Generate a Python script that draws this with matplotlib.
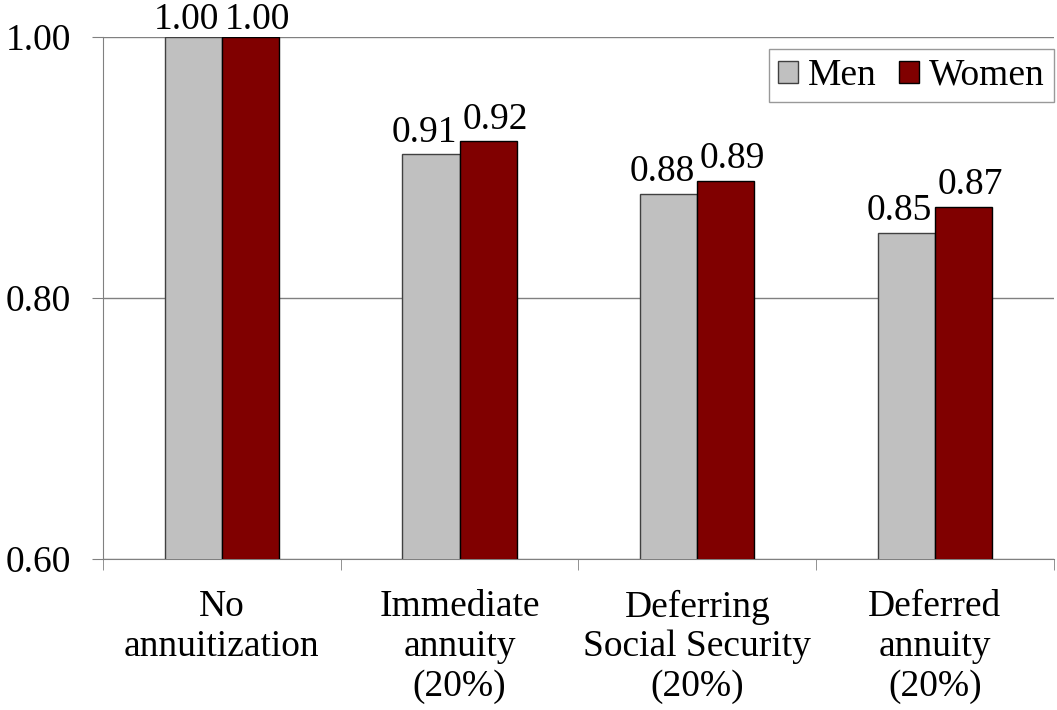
import matplotlib
matplotlib.use('Agg')
from matplotlib import pyplot as plt
import numpy as np

categories = ['No\nannuitization', 'Immediate\nannuity\n(20%)',
              'Deferring\nSocial Security\n(20%)', 'Deferred\nannuity\n(20%)']
men = [1.00, 0.91, 0.88, 0.85]
women = [1.00, 0.92, 0.89, 0.87]

plt.rcParams['font.family'] = ['Liberation Serif', 'DejaVu Serif']
plt.rcParams['font.size'] = 27

fig = plt.figure(figsize=(10.57, 7.10), dpi=100)
ax = fig.add_axes([0.0974, 0.2127, 0.8996, 0.7352])

x = np.arange(len(categories))
w = 0.24
b1 = ax.bar(x - w/2, men, w, color='#C0C0C0', edgecolor='#404040',
            linewidth=1, label='Men', zorder=3)
b2 = ax.bar(x + w/2, women, w, color='#800000', edgecolor='black',
            linewidth=1, label='Women', zorder=3)
# value labels, nudged apart so neighbours don't collide;
# the ones at the top of the scale sit lower to stay inside the figure
for bars, vals, dx in ((b1, men, -5), (b2, women, 5)):
    for bar, v in zip(bars, vals):
        dy = 6 if v >= 1.0 else 9
        ax.annotate('%.2f' % v, (bar.get_x() + bar.get_width()/2, v),
                    xytext=(dx, dy), textcoords='offset points',
                    ha='center', va='baseline', annotation_clip=False)

ax.set_ylim(0.6, 1.0)
ax.set_yticks([0.6, 0.8, 1.0])
ax.set_yticklabels(['0.60', '0.80', '1.00'])
ax.set_xlim(-0.5, len(categories) - 0.5)
ax.set_xticks(x)
ax.set_xticklabels(categories, linespacing=1.2)
ax.set_xticks(np.arange(len(categories) + 1) - 0.5, minor=True)
ax.tick_params(axis='x', which='major', length=0, pad=22)
ax.tick_params(axis='x', which='minor', length=8, color='#808080')
ax.tick_params(axis='y', length=8, color='#808080', pad=15)
ax.yaxis.grid(True, color='#808080', linewidth=1)
ax.set_axisbelow(True)
for s in ('top', 'right'):
    ax.spines[s].set_visible(False)
for s in ('left', 'bottom'):
    ax.spines[s].set_color('#808080')

leg = ax.legend(loc='upper right', bbox_to_anchor=(1.0, 0.977), ncol=2,
                fancybox=False, frameon=True, handlelength=0.53,
                handleheight=0.53, handletextpad=0.27, columnspacing=0.58,
                borderpad=0.25, borderaxespad=0.0)
leg.get_frame().set_edgecolor('#808080')
leg.get_frame().set_linewidth(1)

fig.savefig('out.png', dpi=100)
